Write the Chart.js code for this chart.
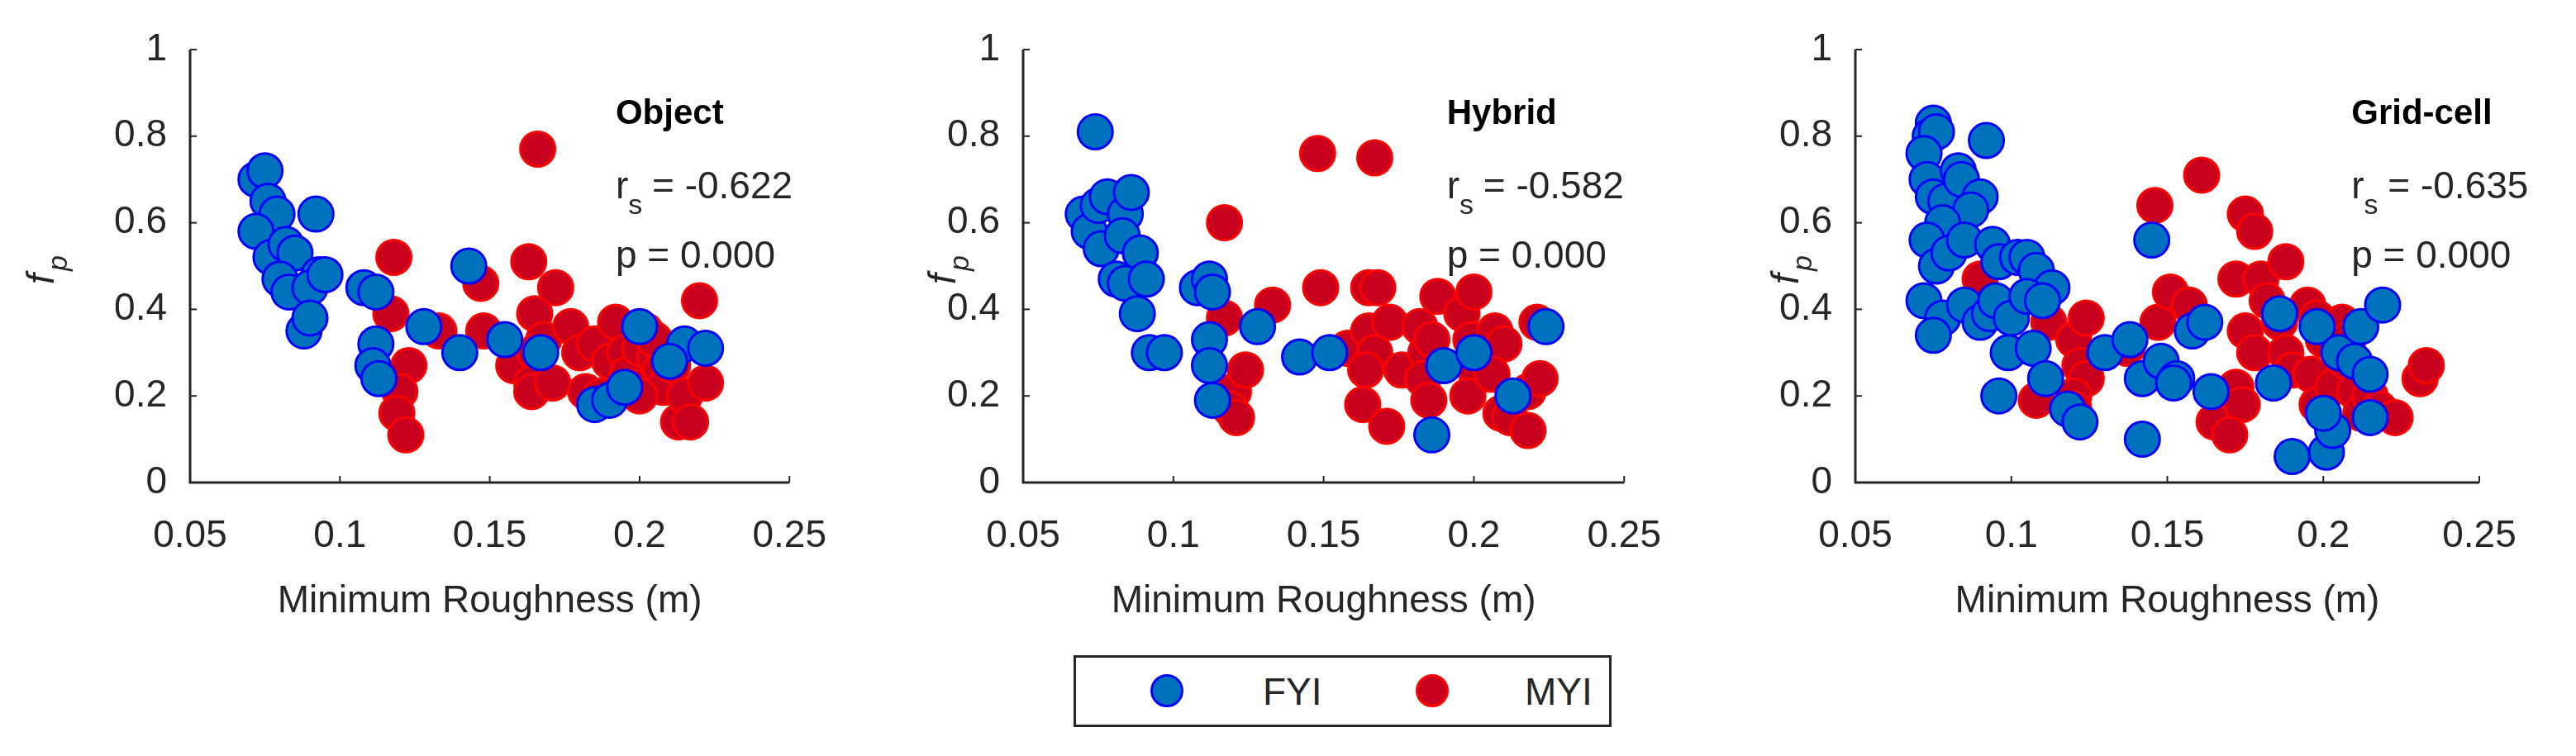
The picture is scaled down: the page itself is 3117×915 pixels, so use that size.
<!DOCTYPE html>
<html><head><meta charset="utf-8">
<script src="https://cdn.jsdelivr.net/npm/chart.js@4"></script>
<style>
body{margin:0;width:3117px;height:915px;background:#fff;position:relative;overflow:hidden;font-family:"Liberation Sans",Arial,sans-serif}
canvas{position:absolute;top:0}
#leg{position:absolute;left:1299px;top:793px;width:645px;height:81px;border:3px solid #262626;background:#fff}
.dot{position:absolute;top:20px;width:40px;height:40px;border-radius:50%;box-sizing:border-box;border:3px solid}
.lt{position:absolute;top:14px;font-size:46px;color:#262626}
</style></head><body>
<canvas id="c1" style="left:0px"></canvas>
<canvas id="c2" style="left:1040px"></canvas>
<canvas id="c3" style="left:2080px"></canvas>
<div id="leg">
<div class="dot" style="left:90px;background:#0072BD;border-color:#0000FF"></div>
<div class="lt" style="left:226px">FYI</div>
<div class="dot" style="left:411px;background:#C8001E;border-color:#FF0000"></div>
<div class="lt" style="left:543px">MYI</div>
</div>
<script>
const xTicks=[0.05,0.1,0.15,0.2,0.25];
const yTicks=[0,0.2,0.4,0.6,0.8,1];
const objFYI_x=[0.072,0.075,0.076,0.079,0.072,0.077,0.082,0.085,0.080,0.083,0.092,0.093,0.090,0.088,0.090,0.095,0.108,0.112,0.112,0.111,0.113,0.128,0.140,0.143,0.155,0.167,0.185,0.190,0.200,0.215,0.222,0.195,0.210];
const objFYI_y=[0.70,0.72,0.65,0.62,0.58,0.52,0.55,0.53,0.47,0.44,0.62,0.48,0.45,0.35,0.38,0.48,0.45,0.44,0.32,0.27,0.24,0.36,0.30,0.50,0.33,0.30,0.18,0.19,0.36,0.32,0.31,0.22,0.28];
const objMYI_x=[0.118,0.117,0.123,0.120,0.119,0.122,0.133,0.147,0.148,0.158,0.163,0.166,0.165,0.168,0.165,0.164,0.164,0.172,0.171,0.177,0.180,0.182,0.185,0.187,0.190,0.192,0.195,0.196,0.198,0.200,0.202,0.205,0.207,0.208,0.211,0.213,0.215,0.217,0.220,0.222,0.205,0.200];
const objMYI_y=[0.52,0.39,0.27,0.21,0.16,0.11,0.35,0.46,0.35,0.27,0.51,0.77,0.39,0.33,0.30,0.23,0.21,0.45,0.23,0.36,0.30,0.21,0.32,0.20,0.28,0.37,0.30,0.25,0.22,0.31,0.35,0.29,0.26,0.22,0.27,0.14,0.20,0.14,0.42,0.23,0.33,0.20];
const hybFYI_x=[0.074,0.070,0.072,0.075,0.078,0.076,0.084,0.086,0.083,0.089,0.081,0.084,0.091,0.088,0.092,0.097,0.108,0.112,0.113,0.112,0.112,0.113,0.128,0.142,0.152,0.190,0.186,0.213,0.224,0.200];
const hybFYI_y=[0.81,0.62,0.58,0.64,0.66,0.54,0.62,0.67,0.57,0.53,0.47,0.46,0.47,0.39,0.30,0.30,0.45,0.47,0.44,0.33,0.27,0.19,0.36,0.29,0.30,0.27,0.11,0.20,0.36,0.30];
const hybMYI_x=[0.117,0.117,0.133,0.120,0.119,0.121,0.124,0.148,0.167,0.149,0.165,0.168,0.158,0.165,0.167,0.172,0.164,0.176,0.182,0.184,0.186,0.183,0.185,0.163,0.171,0.188,0.196,0.200,0.199,0.201,0.198,0.203,0.207,0.210,0.206,0.209,0.212,0.218,0.218,0.222,0.221];
const hybMYI_y=[0.60,0.38,0.41,0.21,0.17,0.15,0.26,0.76,0.75,0.45,0.45,0.45,0.31,0.35,0.30,0.37,0.26,0.26,0.36,0.30,0.33,0.24,0.19,0.18,0.13,0.43,0.39,0.44,0.33,0.25,0.20,0.30,0.35,0.32,0.25,0.16,0.15,0.21,0.12,0.24,0.37];
const grdFYI_x=[0.075,0.074,0.076,0.072,0.073,0.075,0.079,0.083,0.084,0.092,0.090,0.087,0.078,0.073,0.076,0.080,0.085,0.094,0.096,0.102,0.105,0.108,0.113,0.072,0.078,0.075,0.085,0.090,0.093,0.095,0.100,0.105,0.110,0.099,0.107,0.096,0.111,0.118,0.122,0.130,0.138,0.142,0.142,0.145,0.148,0.153,0.152,0.158,0.162,0.164,0.184,0.186,0.190,0.198,0.201,0.203,0.205,0.210,0.212,0.215,0.215,0.219,0.200];
const grdFYI_y=[0.83,0.80,0.81,0.76,0.70,0.66,0.65,0.72,0.70,0.79,0.66,0.63,0.60,0.56,0.50,0.53,0.56,0.55,0.51,0.52,0.52,0.49,0.45,0.42,0.38,0.34,0.41,0.37,0.39,0.42,0.38,0.43,0.42,0.30,0.31,0.20,0.24,0.17,0.14,0.30,0.33,0.24,0.10,0.56,0.28,0.24,0.23,0.35,0.37,0.21,0.23,0.39,0.06,0.36,0.07,0.12,0.30,0.28,0.36,0.25,0.15,0.41,0.16];
const grdMYI_x=[0.090,0.108,0.112,0.120,0.124,0.122,0.124,0.120,0.120,0.137,0.147,0.146,0.161,0.151,0.157,0.168,0.165,0.172,0.174,0.170,0.175,0.178,0.172,0.180,0.182,0.188,0.175,0.178,0.186,0.188,0.190,0.195,0.198,0.200,0.196,0.198,0.203,0.206,0.208,0.207,0.210,0.212,0.215,0.218,0.223,0.231,0.233];
const grdMYI_y=[0.47,0.19,0.37,0.33,0.38,0.27,0.24,0.20,0.17,0.31,0.37,0.64,0.71,0.44,0.41,0.20,0.14,0.22,0.18,0.11,0.62,0.58,0.47,0.47,0.42,0.51,0.35,0.30,0.37,0.30,0.26,0.41,0.38,0.33,0.25,0.18,0.22,0.37,0.33,0.28,0.21,0.16,0.20,0.17,0.15,0.24,0.27];
const panels=[
 {id:'c1',title:'Object',rs:'-0.622',p:'0.000',fx:objFYI_x,fy:objFYI_y,mx:objMYI_x,my:objMYI_y,w:1030,yw:230,pr:55,tx:0.192,fo:178},
 {id:'c2',title:'Hybrid',rs:'-0.582',p:'0.000',fx:hybFYI_x,fy:hybFYI_y,mx:hybMYI_x,my:hybMYI_y,w:1000,yw:198,pr:57,tx:0.191,fo:95},
 {id:'c3',title:'Grid-cell',rs:'-0.635',p:'0.000',fx:grdFYI_x,fy:grdFYI_y,mx:grdMYI_x,my:grdMYI_y,w:1037,yw:165,pr:117,tx:0.209,fo:82}
];
const FONT='"Liberation Sans", Arial, sans-serif';
const TC='#262626';
panels.forEach(P=>{
 const cv=document.getElementById(P.id);
 cv.width=P.w;cv.height=760;cv.style.width=P.w+'px';cv.style.height='760px';
 const deco={id:'deco',afterDraw(ch){
  const c=ch.ctx,a=ch.chartArea,xs=ch.scales.x,ys=ch.scales.y;
  c.save();c.strokeStyle=TC;c.lineWidth=3;
  c.beginPath();c.moveTo(a.left,a.top);c.lineTo(a.left,a.bottom);c.lineTo(a.right,a.bottom);c.stroke();
  c.lineWidth=2;
  xTicks.forEach(v=>{const px=xs.getPixelForValue(v);c.beginPath();c.moveTo(px,a.bottom);c.lineTo(px,a.bottom-8);c.stroke();});
  yTicks.forEach(v=>{const py=ys.getPixelForValue(v);c.beginPath();c.moveTo(a.left,py);c.lineTo(a.left+8,py);c.stroke();});
  c.fillStyle=TC;
  c.save();c.translate(a.left-P.fo,(a.top+a.bottom)/2);c.rotate(-Math.PI/2);
  c.font='italic 46px '+FONT;c.textBaseline='middle';c.textAlign='left';c.fillText('f',-22,0);
  c.font='italic 34px '+FONT;c.fillText('p',-6,20);c.restore();
  const x0=xs.getPixelForValue(P.tx);
  c.textBaseline='middle';c.textAlign='left';c.fillStyle='#000';
  c.font='bold 42px '+FONT;c.fillText(P.title,x0,ys.getPixelForValue(0.85));
  c.fillStyle=TC;c.font='46px '+FONT;
  const yr=ys.getPixelForValue(0.68);
  c.fillText('r',x0,yr);const rw=c.measureText('r').width;
  c.font='34px '+FONT;c.fillText('s',x0+rw,yr+22);
  c.font='46px '+FONT;c.fillText(' = '+P.rs,x0+rw+16,yr);
  c.fillText('p = '+P.p,x0,ys.getPixelForValue(0.52));
  c.restore();
 }};
 new Chart(cv,{type:'scatter',
  data:{datasets:[
   {data:P.fx.map((x,i)=>({x,y:P.fy[i]})),backgroundColor:'#0072BD',borderColor:'#0000FF',borderWidth:3,pointRadius:21},
   {data:P.mx.map((x,i)=>({x,y:P.my[i]})),backgroundColor:'#C8001E',borderColor:'#FF0000',borderWidth:3,pointRadius:21}
  ]},
  options:{responsive:false,animation:false,devicePixelRatio:1,
   layout:{padding:{top:60,right:P.pr,left:0,bottom:0}},
   plugins:{legend:{display:false},tooltip:{enabled:false}},
   scales:{
    x:{type:'linear',min:0.05,max:0.25,afterBuildTicks(s){s.ticks=xTicks.map(v=>({value:v}));},
       afterFit(s){s.height=176;},grid:{display:false},border:{display:false},
       ticks:{color:TC,font:{size:46,family:FONT},padding:30,maxRotation:0,callback:v=>String(v)},
       title:{display:true,text:'Minimum Roughness (m)',color:TC,font:{size:46,family:FONT},padding:{top:4}}},
    y:{type:'linear',min:0,max:1,afterBuildTicks(s){s.ticks=yTicks.map(v=>({value:v}));},
       afterFit(s){s.width=P.yw;},grid:{display:false},border:{display:false},
       ticks:{color:TC,font:{size:46,family:FONT},padding:20,callback:v=>String(v)}}
   }},
  plugins:[deco]});
});
</script></body></html>
